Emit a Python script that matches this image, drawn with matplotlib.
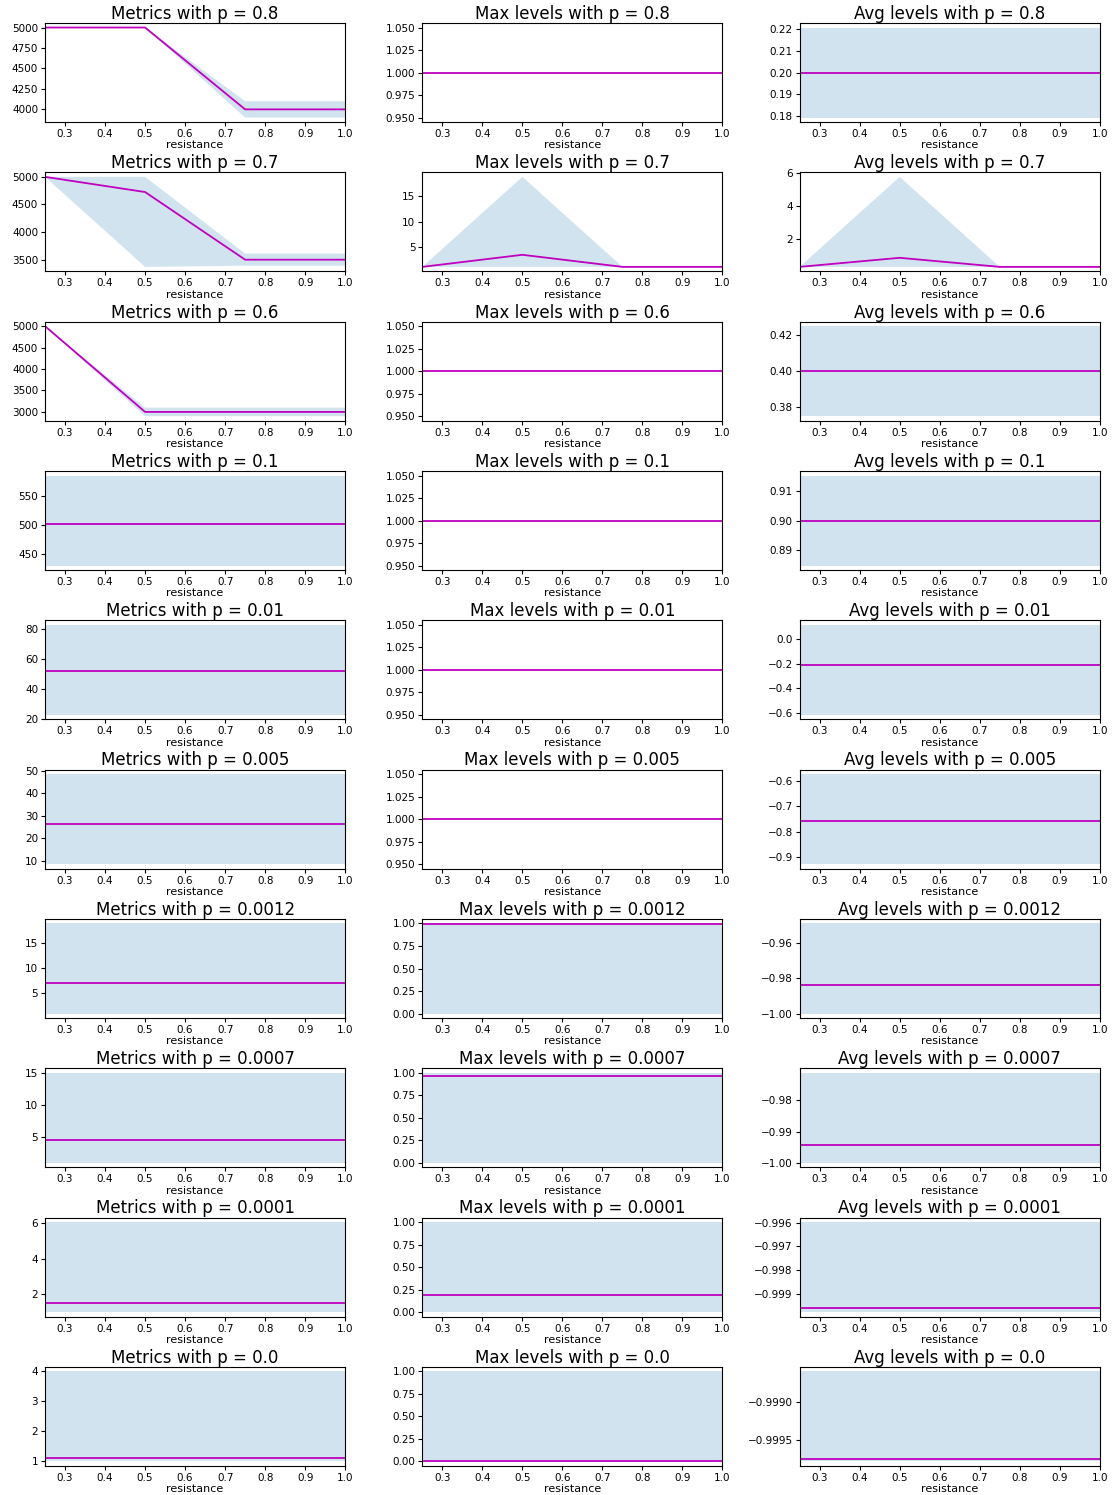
import numpy as np
import matplotlib.pyplot as plt
from matplotlib.ticker import MaxNLocator

plt.switch_backend('agg')

resistance = [0.25, 0.5, 0.75, 1.0]
p_values = ['0.8', '0.7', '0.6', '0.1', '0.01', '0.005', '0.0012', '0.0007', '0.0001', '0.0']

# metrics: mean and min/max band per p
metrics_mean = [
    [5000, 5000, 4000, 4000],
    [5000, 4725, 3500, 3500],
    [5000, 3000, 3000, 3000],
    [502, 502, 502, 502],
    [51.5, 51.5, 51.5, 51.5],
    [26.3, 26.3, 26.3, 26.3],
    [7.0, 7.0, 7.0, 7.0],
    [4.6, 4.6, 4.6, 4.6],
    [1.5, 1.5, 1.5, 1.5],
    [1.1, 1.1, 1.1, 1.1],
]
metrics_low = [
    [5000, 5000, 3900, 3900],
    [5000, 3370, 3390, 3390],
    [5000, 2900, 2900, 2900],
    [430, 430, 430, 430],
    [22.5, 22.5, 22.5, 22.5],
    [8.4, 8.4, 8.4, 8.4],
    [1.0, 1.0, 1.0, 1.0],
    [1.0, 1.0, 1.0, 1.0],
    [1.0, 1.0, 1.0, 1.0],
    [1.0, 1.0, 1.0, 1.0],
]
metrics_high = [
    [5000, 5000, 4100, 4100],
    [5000, 5000, 3610, 3610],
    [5000, 3100, 3100, 3100],
    [585, 585, 585, 585],
    [82.5, 82.5, 82.5, 82.5],
    [48.5, 48.5, 48.5, 48.5],
    [18.9, 18.9, 18.9, 18.9],
    [15.1, 15.1, 15.1, 15.1],
    [6.05, 6.05, 6.05, 6.05],
    [4.0, 4.0, 4.0, 4.0],
]

# max levels
max_mean = [
    [1, 1, 1, 1],
    [1, 3.4, 1, 1],
    [1, 1, 1, 1],
    [1, 1, 1, 1],
    [1, 1, 1, 1],
    [1, 1, 1, 1],
    [0.99, 0.99, 0.99, 0.99],
    [0.965, 0.965, 0.965, 0.965],
    [0.19, 0.19, 0.19, 0.19],
    [0.01, 0.01, 0.01, 0.01],
]
max_low = [
    [1, 1, 1, 1],
    [1, 1, 1, 1],
    [1, 1, 1, 1],
    [1, 1, 1, 1],
    [1, 1, 1, 1],
    [1, 1, 1, 1],
    [0, 0, 0, 0],
    [0, 0, 0, 0],
    [0, 0, 0, 0],
    [0, 0, 0, 0],
]
max_high = [
    [1, 1, 1, 1],
    [1, 18.9, 1, 1],
    [1, 1, 1, 1],
    [1, 1, 1, 1],
    [1, 1, 1, 1],
    [1, 1, 1, 1],
    [1, 1, 1, 1],
    [1, 1, 1, 1],
    [1, 1, 1, 1],
    [1, 1, 1, 1],
]

# avg levels
avg_mean = [
    [0.2, 0.2, 0.2, 0.2],
    [0.3, 0.85, 0.3, 0.3],
    [0.4, 0.4, 0.4, 0.4],
    [0.9, 0.9, 0.9, 0.9],
    [-0.21, -0.21, -0.21, -0.21],
    [-0.757, -0.757, -0.757, -0.757],
    [-0.984, -0.984, -0.984, -0.984],
    [-0.9942, -0.9942, -0.9942, -0.9942],
    [-0.99962, -0.99962, -0.99962, -0.99962],
    [-0.99976, -0.99976, -0.99976, -0.99976],
]
avg_low = [
    [0.1795, 0.1795, 0.1795, 0.1795],
    [0.3, 0.3, 0.3, 0.3],
    [0.375, 0.375, 0.375, 0.375],
    [0.8849, 0.8849, 0.8849, 0.8849],
    [-0.615, -0.615, -0.615, -0.615],
    [-0.927, -0.927, -0.927, -0.927],
    [-1.0, -1.0, -1.0, -1.0],
    [-0.9998, -0.9998, -0.9998, -0.9998],
    [-0.99979, -0.99979, -0.99979, -0.99979],
    [-0.99979, -0.99979, -0.99979, -0.99979],
]
avg_high = [
    [0.2205, 0.2205, 0.2205, 0.2205],
    [0.3, 5.76, 0.3, 0.3],
    [0.425, 0.425, 0.425, 0.425],
    [0.9151, 0.9151, 0.9151, 0.9151],
    [0.115, 0.115, 0.115, 0.115],
    [-0.573, -0.573, -0.573, -0.573],
    [-0.949, -0.949, -0.949, -0.949],
    [-0.9716, -0.9716, -0.9716, -0.9716],
    [-0.99598, -0.99598, -0.99598, -0.99598],
    [-0.99859, -0.99859, -0.99859, -0.99859],
]

panels = [
    ('Metrics', metrics_mean, metrics_low, metrics_high),
    ('Max levels', max_mean, max_low, max_high),
    ('Avg levels', avg_mean, avg_low, avg_high),
]

fig, axes = plt.subplots(len(p_values), 3, figsize=(11.12, 14.95), dpi=100)
fig.subplots_adjust(left=0.0405, right=0.989, top=0.9846, bottom=0.0194,
                    wspace=0.257, hspace=0.508)

for i, p in enumerate(p_values):
    for j, (name, mean, low, high) in enumerate(panels):
        ax = axes[i, j]
        ax.fill_between(resistance, low[i], high[i], alpha=0.2)
        ax.plot(resistance, mean[i], color='m', linewidth=1.3)
        ax.set_xlim(0.25, 1.0)
        ax.yaxis.set_major_locator(MaxNLocator(nbins=5, steps=[1, 2, 2.5, 5, 10]))
        ax.set_title(f'{name} with p = {p}', fontsize=12, pad=3)
        ax.set_xlabel('resistance', fontsize=8, labelpad=1)
        ax.tick_params(labelsize=7.5, length=3, pad=2)

plt.savefig('out.png', dpi=100)
